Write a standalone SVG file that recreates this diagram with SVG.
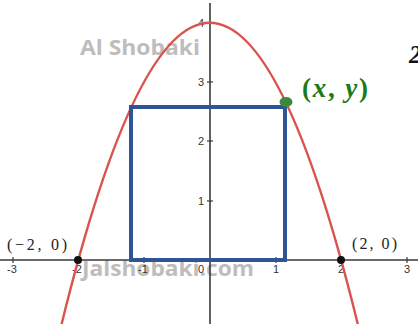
<svg xmlns="http://www.w3.org/2000/svg" width="418" height="324" viewBox="0 0 418 324">
<style>
.axis{stroke:#3a3a3a;stroke-width:1.6;fill:none}
.tick{stroke:#3a3a3a;stroke-width:1.2}
.tl{font-family:"Liberation Sans",Arial,sans-serif;font-size:11px;fill:#333;text-anchor:middle}
.tly{font-family:"Liberation Sans",Arial,sans-serif;font-size:11px;fill:#333;text-anchor:end}
.wm{font-family:"Open Sans","Liberation Sans",sans-serif;font-weight:bold;fill:#bdbdbd}
.pt{font-family:"Liberation Serif","DejaVu Serif",serif;font-size:16px;fill:#222}
</style>
<rect width="418" height="324" fill="#fff"/>
<g id="watermarks">
<text class="wm" x="80" y="55" font-size="22" textLength="120" lengthAdjust="spacingAndGlyphs">Al Shobaki</text>
<text class="wm" x="82" y="276" font-size="21" textLength="172" lengthAdjust="spacingAndGlyphs">Jalshobaki.com</text>
</g>
<g id="axes">
<line class="axis" x1="0" y1="260" x2="418" y2="260"/>
<line class="axis" x1="210" y1="3" x2="210" y2="324"/>
<g class="tick">
<line x1="13" y1="257" x2="13" y2="263"/>
<line x1="78" y1="257" x2="78" y2="263"/>
<line x1="144" y1="257" x2="144" y2="263"/>
<line x1="276" y1="257" x2="276" y2="263"/>
<line x1="341" y1="257" x2="341" y2="263"/>
<line x1="407" y1="257" x2="407" y2="263"/>
<line x1="207" y1="201" x2="213" y2="201"/>
<line x1="207" y1="141" x2="213" y2="141"/>
<line x1="207" y1="82" x2="213" y2="82"/>
<line x1="207" y1="23" x2="213" y2="23"/>
</g>
<text class="tl" x="12" y="273">-3</text>
<text class="tl" x="77" y="273">-2</text>
<text class="tl" x="143" y="273">-1</text>
<text class="tl" x="201" y="273">0</text>
<text class="tl" x="276" y="273">1</text>
<text class="tl" x="341" y="273">2</text>
<text class="tl" x="407" y="273">3</text>
<text class="tly" x="204" y="205">1</text>
<text class="tly" x="204" y="145">2</text>
<text class="tly" x="204" y="86">3</text>
<text class="tly" x="204" y="27">4</text>
</g>
<g id="parabola">
<path d="M58.6,336.5 Q209.7,-290.9 360.8,336.5" fill="none" stroke="#d9534f" stroke-width="2.4"/>
</g>
<g id="rectangle">
<rect x="131" y="107" width="154" height="153" fill="none" stroke="#2f5597" stroke-width="4"/>
</g>
<g id="points">
<circle cx="78" cy="260" r="4" fill="#111"/>
<circle cx="341" cy="260" r="4" fill="#111"/>
<ellipse cx="286" cy="102" rx="6.5" ry="5" fill="#3b8a3b"/>
<text class="pt" x="7" y="250" textLength="60" lengthAdjust="spacing">(−2, 0)</text>
<text class="pt" x="352" y="249" textLength="45" lengthAdjust="spacing">(2, 0)</text>
<text x="302" y="97" font-family="Liberation Serif,serif" font-size="27" font-weight="bold" fill="#1a7a1a" textLength="66" lengthAdjust="spacing">(<tspan font-style="italic">x</tspan>, <tspan font-style="italic">y</tspan>)</text>
<text x="409" y="63" font-family="Liberation Serif,serif" font-size="25" font-weight="bold" font-style="italic" fill="#111">2</text>
</g>
</svg>
